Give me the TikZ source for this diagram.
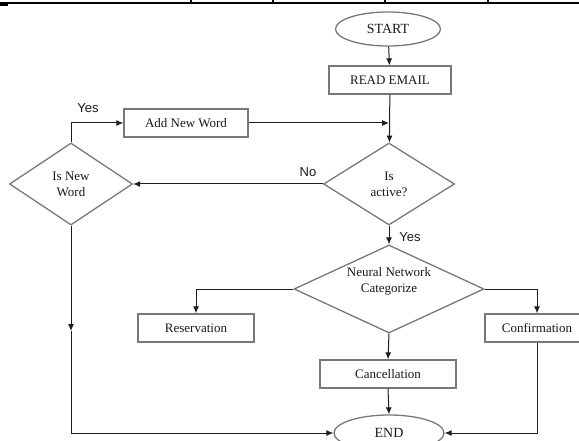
\documentclass[tikz,border=0pt]{standalone}
\usepackage{fontspec}
\setmainfont{Liberation Serif}
\newfontfamily\labelfont{Liberation Sans}
\usetikzlibrary{shapes.geometric,arrows.meta}
\definecolor{boxgray}{RGB}{120,120,120}
\definecolor{linec}{RGB}{30,30,30}
\definecolor{txt}{RGB}{25,25,25}
\begin{document}
\begin{tikzpicture}[x=1pt,y=-1pt,
  box/.style={draw=boxgray, line width=1.3pt, rectangle, minimum height=28pt, inner sep=0pt,
    font=\fontsize{13}{15}\selectfont, text=txt},
  term/.style={draw=boxgray, line width=1.3pt, ellipse, minimum width=105pt, minimum height=34pt,
    inner sep=0pt, font=\fontsize{14}{16}\selectfont, text=txt},
  dec/.style={draw=boxgray, line width=1.3pt, diamond, inner sep=0pt, align=center,
    font=\fontsize{13}{16}\selectfont, text=txt},
  arr/.style={draw=linec, line width=1pt, -{Latex[length=7pt,width=6pt]}},
  lbl/.style={font=\labelfont\fontsize{13}{15}\selectfont, text=txt, inner sep=0pt}]
\useasboundingbox (0,0) rectangle (579,441);
% page rule at the top
\draw[line width=1.3pt] (0,3) -- (579,3);
\foreach \xx in {191,273,385,488} \draw[line width=1.3pt] (\xx,0) -- (\xx,3);
\fill (0,3) rectangle (8,6);
% nodes
\node[term] (start) at (388,29) {START};
\node[box, minimum width=122pt] (read) at (390,80) {READ EMAIL};
\node[box, minimum width=124pt] (add) at (186,123) {Add New Word};
\node[dec, shape aspect=1.5, minimum width=123pt, minimum height=82pt] (isnew) at (71,184) {Is New\\Word};
\node[dec, shape aspect=1.6, minimum width=131pt, minimum height=82pt] (active) at (389,184) {Is\\active?};
\node[dec, shape aspect=2.15, minimum width=190pt, minimum height=88pt] (nn) at (389,289) {Neural Network\\Categorize\\[2pt]};
\node[box, minimum width=116pt] (res) at (196,328) {Reservation};
\node[box, minimum width=104pt] (conf) at (537,328) {Confirmation};
\node[box, minimum width=136pt] (canc) at (388,374) {Cancellation};
\node[term, minimum width=110pt, minimum height=36pt] (end) at (389,433) {END};
% labels
\node[lbl] (yesA) at (88,108) {Yes};
\node[lbl] (noA) at (308,172) {No};
\node[lbl] (yesB) at (410,237) {Yes};
% connectors
\draw[arr] (start) -- (read);
\draw[arr] (read) -- (active);
\draw[arr] (add.east) -- (add.east -| active.north);
\draw[arr] (isnew.north) |- (add.west);
\draw[arr] (active.west) -- (isnew.east);
\draw[arr] (active.south) -- (nn.north);
\draw[arr] (nn.west) -| (res.north);
\draw[arr] (nn.east) -| (conf.north);
\draw[arr] (nn.south) -- (canc.north);
\draw[arr] (canc.south) -- (end.north);
\coordinate (mid) at (71,331);
\draw[arr] (isnew.south) -- (mid);
\draw[arr] (mid) |- (end.west);
\draw[arr] (conf.south) |- (end.east);
\end{tikzpicture}
\end{document}
